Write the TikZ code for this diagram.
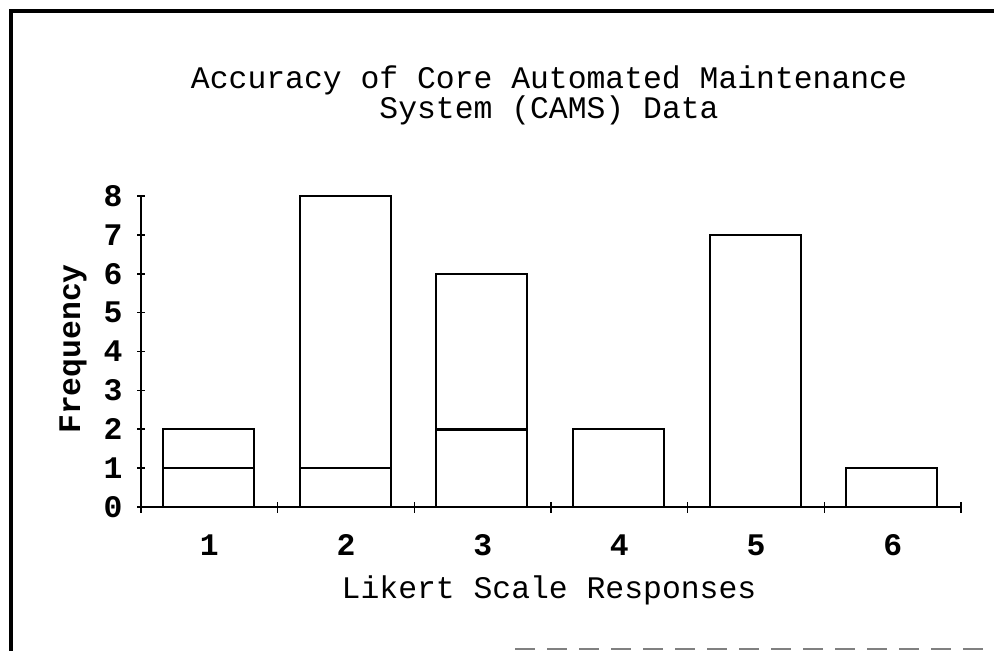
\documentclass[tikz,border=0pt]{standalone}
\usepackage{fontspec}
\setmonofont{Liberation Mono}
\begin{document}
\begin{tikzpicture}[x=0.5pt,y=-0.5pt,
  lbl/.style={font=\ttfamily\fontsize{15.7}{15}\selectfont, inner sep=0pt},
  blbl/.style={font=\ttfamily\bfseries\fontsize{15.7}{15}\selectfont, inner sep=0pt},
  barbox/.style={draw=black, line width=1.1pt, fill=white},
  axisline/.style={draw=black, line width=0.8pt},
  frame/.style={draw=black, line width=2pt},
]
\useasboundingbox (0,0) rectangle (994,651);
% frame
\draw[frame] (994,11) -- (11,11) -- (11,651);
\draw[gray, line width=0.8pt, dash pattern=on 10pt off 6pt] (515,649) -- (994,649);
% title
\node[lbl, align=center] (title) at (549,95) {Accuracy of Core Automated Maintenance\\System (CAMS) Data};
% bars: v -> 507-38.875 v ; cat left 141+136.67(i-1)
\pgfmathsetmacro{\u}{38.875}
\pgfmathsetmacro{\cw}{136.67}
\foreach \i/\tot/\low in {1/2/1,2/8/1,3/6/2,4/2/0,5/7/0,6/1/0}{
  \pgfmathsetmacro{\xl}{141+\cw*(\i-1)+22}
  \pgfmathsetmacro{\xr}{\xl+91}
  \pgfmathsetmacro{\yt}{507-\u*\tot}
  \pgfmathsetmacro{\ym}{507-\u*\low}
  \draw[barbox] (\xl,507) rectangle (\xr,\yt);
  \ifnum\low>0
    \draw[black, line width=1.3pt] (\xl,\ym) -- (\xr,\ym);
  \fi
}
% axes
\draw[axisline] (141,196) -- (141,507) -- (961,507);
\foreach \v in {0,...,8}{
  \pgfmathsetmacro{\yy}{507-\u*\v}
  \draw[axisline] (137,\yy) -- (145,\yy);
  \node[blbl] (y\v) at (113,\yy) {\v};
}
\foreach \i in {0,...,6}{
  \pgfmathsetmacro{\xx}{141+\cw*\i}
  \draw[axisline] (\xx,502) -- (\xx,513);
}
\foreach \i in {1,...,6}{
  \pgfmathsetmacro{\xx}{141+\cw*(\i-0.5)}
  \node[blbl] (x\i) at (\xx,545) {\i};
}
\node[lbl] (xlab) at (549,590) {Likert Scale Responses};
\node[blbl, rotate=90] (ylab) at (73,349) {Frequency};
\end{tikzpicture}
\end{document}
